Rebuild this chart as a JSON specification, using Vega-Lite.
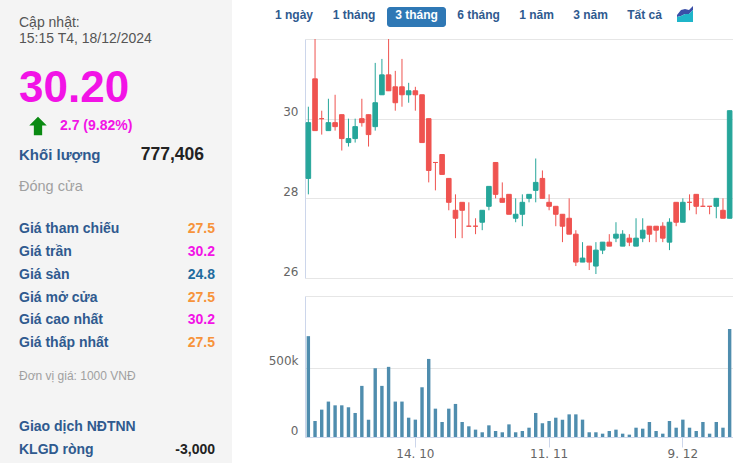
{"$schema":"https://vega.github.io/schema/vega-lite/v6.json","background":"white","padding":0,"autosize":{"type":"pad"},"spacing":73,"bounds":"flush","resolve":{"scale":{"color":"independent","stroke":"independent"}},"config":{"view":{"stroke":null},"text":{"font":"Liberation Sans"},"axis":{"labelFont":"DejaVu Sans","labelFontSize":12,"labelColor":"#666666"}},"datasets":{"icon":[{"slot":7,"rise":7,"mid":5},{"slot":8,"rise":12,"mid":6},{"slot":9,"rise":13,"mid":8},{"slot":10,"rise":12,"mid":8},{"slot":11,"rise":16,"mid":12}],"side":[{"text":"Cập nhật:","line":0,"col":0,"kind":"plain","tone":"note"},{"text":"15:15 T4, 18/12/2024","line":1,"col":0,"kind":"plain","tone":"note"},{"text":"30.20","line":2,"col":0,"kind":"big","tone":"ceil"},{"text":"2.7 (9.82%)","line":3,"col":2,"kind":"bold","tone":"ceil"},{"text":"Khối lượng","line":4,"col":0,"kind":"head","tone":"label"},{"text":"777,406","line":4,"col":3,"kind":"vol","tone":"ink"},{"text":"Đóng cửa","line":5,"col":0,"kind":"close","tone":"muted"},{"text":"Giá tham chiếu","line":6,"col":0,"kind":"bold","tone":"label"},{"text":"27.5","line":6,"col":4,"kind":"num","tone":"ref"},{"text":"Giá trần","line":7,"col":0,"kind":"bold","tone":"label"},{"text":"30.2","line":7,"col":4,"kind":"num","tone":"ceil"},{"text":"Giá sàn","line":8,"col":0,"kind":"bold","tone":"label"},{"text":"24.8","line":8,"col":4,"kind":"num","tone":"floor"},{"text":"Giá mở cửa","line":9,"col":0,"kind":"bold","tone":"label"},{"text":"27.5","line":9,"col":4,"kind":"num","tone":"ref"},{"text":"Giá cao nhất","line":10,"col":0,"kind":"bold","tone":"label"},{"text":"30.2","line":10,"col":4,"kind":"num","tone":"ceil"},{"text":"Giá thấp nhất","line":11,"col":0,"kind":"bold","tone":"label"},{"text":"27.5","line":11,"col":4,"kind":"num","tone":"ref"},{"text":"Đơn vị giá: 1000 VNĐ","line":12,"col":0,"kind":"small","tone":"muted"},{"text":"Giao dịch NĐTNN","line":13,"col":0,"kind":"bold","tone":"label"},{"text":"KLGD ròng","line":14,"col":0,"kind":"bold","tone":"label"},{"text":"-3,000","line":14,"col":4,"kind":"num","tone":"ink"}],"stock":[{"d":"20. 9","o":28.5,"h":30.3,"l":28.1,"c":29.9,"v":726000,"dir":"up"},{"d":"23. 9","o":31.0,"h":32.0,"l":29.7,"c":29.7,"v":115000,"dir":"down"},{"d":"24. 9","o":30.0,"h":30.2,"l":29.6,"c":30.0,"v":197000,"dir":"down"},{"d":"25. 9","o":29.7,"h":30.5,"l":29.7,"c":29.9,"v":255000,"dir":"up"},{"d":"26. 9","o":29.9,"h":30.6,"l":29.7,"c":29.8,"v":228000,"dir":"down"},{"d":"27. 9","o":30.1,"h":30.1,"l":29.2,"c":29.5,"v":228000,"dir":"down"},{"d":"30. 9","o":29.4,"h":30.0,"l":29.3,"c":29.5,"v":214000,"dir":"up"},{"d":"1. 10","o":29.5,"h":30.0,"l":29.4,"c":29.8,"v":173000,"dir":"up"},{"d":"2. 10","o":30.0,"h":30.5,"l":29.8,"c":29.9,"v":368000,"dir":"down"},{"d":"3. 10","o":30.1,"h":30.1,"l":29.3,"c":29.6,"v":125000,"dir":"down"},{"d":"4. 10","o":29.8,"h":31.4,"l":29.7,"c":30.4,"v":495000,"dir":"up"},{"d":"7. 10","o":30.6,"h":31.5,"l":30.6,"c":31.1,"v":368000,"dir":"up"},{"d":"8. 10","o":31.1,"h":32.0,"l":30.7,"c":30.7,"v":505000,"dir":"down"},{"d":"9. 10","o":30.8,"h":31.2,"l":30.2,"c":30.4,"v":255000,"dir":"down"},{"d":"10. 10","o":30.8,"h":31.5,"l":30.3,"c":30.6,"v":255000,"dir":"down"},{"d":"11. 10","o":30.6,"h":30.9,"l":30.4,"c":30.7,"v":139000,"dir":"up"},{"d":"14. 10","o":30.7,"h":30.8,"l":30.2,"c":30.6,"v":125000,"dir":"down"},{"d":"15. 10","o":30.6,"h":30.6,"l":29.4,"c":29.4,"v":358000,"dir":"down"},{"d":"16. 10","o":30.0,"h":30.0,"l":28.4,"c":28.7,"v":562000,"dir":"down"},{"d":"17. 10","o":28.9,"h":28.9,"l":28.2,"c":28.9,"v":204000,"dir":"down"},{"d":"18. 10","o":29.1,"h":29.1,"l":28.6,"c":28.6,"v":108000,"dir":"down"},{"d":"21. 10","o":28.5,"h":28.5,"l":27.7,"c":27.9,"v":204000,"dir":"down"},{"d":"22. 10","o":27.7,"h":28.1,"l":27.0,"c":27.5,"v":238000,"dir":"down"},{"d":"23. 10","o":27.9,"h":27.9,"l":27.0,"c":27.7,"v":108000,"dir":"down"},{"d":"24. 10","o":27.3,"h":27.9,"l":27.3,"c":27.3,"v":77000,"dir":"down"},{"d":"25. 10","o":27.3,"h":27.5,"l":27.1,"c":27.3,"v":53000,"dir":"down"},{"d":"28. 10","o":27.4,"h":27.7,"l":27.2,"c":27.7,"v":34000,"dir":"up"},{"d":"29. 10","o":27.8,"h":28.3,"l":27.7,"c":28.3,"v":84000,"dir":"up"},{"d":"30. 10","o":28.9,"h":28.9,"l":28.0,"c":28.1,"v":43000,"dir":"down"},{"d":"31. 10","o":28.0,"h":28.4,"l":27.9,"c":27.9,"v":34000,"dir":"down"},{"d":"1. 11","o":28.1,"h":28.1,"l":27.6,"c":27.6,"v":91000,"dir":"down"},{"d":"4. 11","o":27.5,"h":28.0,"l":27.4,"c":27.6,"v":34000,"dir":"up"},{"d":"5. 11","o":27.6,"h":28.1,"l":27.3,"c":27.9,"v":43000,"dir":"up"},{"d":"6. 11","o":28.0,"h":28.1,"l":27.9,"c":28.1,"v":67000,"dir":"up"},{"d":"7. 11","o":28.2,"h":29.0,"l":27.9,"c":28.4,"v":173000,"dir":"up"},{"d":"8. 11","o":28.5,"h":28.7,"l":28.0,"c":28.0,"v":99000,"dir":"down"},{"d":"11. 11","o":27.9,"h":28.1,"l":27.7,"c":27.8,"v":115000,"dir":"down"},{"d":"12. 11","o":27.8,"h":27.8,"l":27.3,"c":27.6,"v":139000,"dir":"down"},{"d":"13. 11","o":27.6,"h":27.6,"l":26.9,"c":27.3,"v":125000,"dir":"down"},{"d":"14. 11","o":27.5,"h":28.0,"l":27.1,"c":27.1,"v":163000,"dir":"down"},{"d":"15. 11","o":27.1,"h":27.2,"l":26.3,"c":26.4,"v":163000,"dir":"down"},{"d":"18. 11","o":26.4,"h":26.9,"l":26.4,"c":26.5,"v":125000,"dir":"up"},{"d":"19. 11","o":26.8,"h":26.8,"l":26.2,"c":26.4,"v":34000,"dir":"down"},{"d":"20. 11","o":26.3,"h":26.9,"l":26.1,"c":26.7,"v":34000,"dir":"up"},{"d":"21. 11","o":26.7,"h":26.9,"l":26.6,"c":26.9,"v":24000,"dir":"up"},{"d":"22. 11","o":26.9,"h":27.1,"l":26.8,"c":26.8,"v":43000,"dir":"down"},{"d":"25. 11","o":27.0,"h":27.4,"l":26.9,"c":27.1,"v":53000,"dir":"up"},{"d":"26. 11","o":26.8,"h":27.2,"l":26.8,"c":27.1,"v":24000,"dir":"up"},{"d":"27. 11","o":27.0,"h":27.1,"l":26.8,"c":26.9,"v":17000,"dir":"down"},{"d":"28. 11","o":26.8,"h":27.5,"l":26.8,"c":27.0,"v":67000,"dir":"up"},{"d":"29. 11","o":27.0,"h":27.5,"l":26.9,"c":27.2,"v":60000,"dir":"up"},{"d":"2. 12","o":27.3,"h":27.3,"l":26.9,"c":27.1,"v":108000,"dir":"down"},{"d":"3. 12","o":27.3,"h":27.3,"l":26.9,"c":27.2,"v":43000,"dir":"down"},{"d":"4. 12","o":27.3,"h":27.4,"l":26.9,"c":27.0,"v":24000,"dir":"down"},{"d":"5. 12","o":26.9,"h":27.5,"l":26.7,"c":27.4,"v":115000,"dir":"up"},{"d":"6. 12","o":27.9,"h":27.9,"l":27.3,"c":27.4,"v":67000,"dir":"down"},{"d":"9. 12","o":27.4,"h":28.0,"l":27.4,"c":27.9,"v":125000,"dir":"up"},{"d":"10. 12","o":27.9,"h":28.1,"l":27.7,"c":27.9,"v":67000,"dir":"down"},{"d":"11. 12","o":28.1,"h":28.1,"l":27.6,"c":27.8,"v":43000,"dir":"down"},{"d":"12. 12","o":27.8,"h":28.0,"l":27.8,"c":27.8,"v":108000,"dir":"down"},{"d":"13. 12","o":27.8,"h":27.8,"l":27.6,"c":27.8,"v":24000,"dir":"down"},{"d":"16. 12","o":27.8,"h":28.0,"l":27.5,"c":28.0,"v":108000,"dir":"up"},{"d":"17. 12","o":27.7,"h":28.0,"l":27.5,"c":27.5,"v":67000,"dir":"down"},{"d":"18. 12","o":27.5,"h":30.2,"l":27.5,"c":30.2,"v":777406,"dir":"up"}]},"hconcat":[{"width":232,"height":463,"view":{"fill":"#f4f4f4","stroke":null},"data":{"name":"side"},"encoding":{"x":{"field":"col","type":"quantitative","axis":null,"scale":{"domain":[0,1,2,3,4],"range":[19,38,60,204,215],"nice":false,"zero":false}},"y":{"field":"line","type":"quantitative","axis":null,"scale":{"domain":[0,1,2,3,4,5,6,7,8,9,10,11,12,13,14],"range":[23,39,89,126,155,187,229,252,275,298,320,343,376,427,450],"nice":false,"zero":false}},"text":{"field":"text","type":"nominal"},"color":{"field":"tone","type":"nominal","legend":null,"scale":{"domain":["note","ceil","label","ink","muted","ref","floor"],"range":["#555555","#f213e6","#2f5a8f","#222222","#a0a0a0","#f7933a","#1f6c9e"]}}},"layer":[{"transform":[{"filter":"datum.kind==='plain'"}],"mark":{"type":"text","align":"left","baseline":"middle","fontSize":14}},{"transform":[{"filter":"datum.kind==='big'"}],"mark":{"type":"text","align":"left","baseline":"middle","fontSize":44,"fontWeight":"bold"}},{"transform":[{"filter":"datum.kind==='bold'"}],"mark":{"type":"text","align":"left","baseline":"middle","fontSize":14,"fontWeight":"bold"}},{"transform":[{"filter":"datum.kind==='head'"}],"mark":{"type":"text","align":"left","baseline":"middle","fontSize":15,"fontWeight":"bold"}},{"transform":[{"filter":"datum.kind==='vol'"}],"mark":{"type":"text","align":"right","baseline":"middle","fontSize":17.5,"fontWeight":"bold"}},{"transform":[{"filter":"datum.kind==='close'"}],"mark":{"type":"text","align":"left","baseline":"middle","fontSize":14.5}},{"transform":[{"filter":"datum.kind==='num'"}],"mark":{"type":"text","align":"right","baseline":"middle","fontSize":14,"fontWeight":"bold"}},{"transform":[{"filter":"datum.kind==='small'"}],"mark":{"type":"text","align":"left","baseline":"middle","fontSize":12}},{"data":{"values":[{"line":3,"col":1}]},"mark":{"type":"point","filled":true,"opacity":1,"size":340,"fill":"#0a8a12","stroke":null,"shape":"M0,-1 L0.95,-0.05 L0.45,-0.05 L0.45,1 L-0.45,1 L-0.45,-0.05 L-0.95,-0.05 Z"},"encoding":{"text":null,"color":null}}]},{"spacing":18,"bounds":"flush","resolve":{"scale":{"color":"independent","stroke":"independent"}},"vconcat":[{"width":428,"height":21,"view":{"stroke":null},"encoding":{"x":{"field":"slot","type":"quantitative","axis":null,"scale":{"domain":[0,1,2,3,4,5,6,7,11],"range":[-11,49,111.5,173.5,231.5,285.5,339.5,372,388],"nice":false,"zero":false}},"y":{"field":"rise","type":"quantitative","axis":null,"scale":{"domain":[0,16],"range":[22,6],"nice":false,"zero":false}}},"layer":[{"data":{"values":[{"slot":2,"rise":5}]},"mark":{"type":"rect","width":59,"height":20,"cornerRadius":3,"fill":"#2f78b5"}},{"data":{"values":[{"slot":0,"rise":7,"label":"1 ngày","sel":"n"},{"slot":1,"rise":7,"label":"1 tháng","sel":"n"},{"slot":2,"rise":7,"label":"3 tháng","sel":"y"},{"slot":3,"rise":7,"label":"6 tháng","sel":"n"},{"slot":4,"rise":7,"label":"1 năm","sel":"n"},{"slot":5,"rise":7,"label":"3 năm","sel":"n"},{"slot":6,"rise":7,"label":"Tất cả","sel":"n"}]},"mark":{"type":"text","fontSize":12,"fontWeight":"bold","baseline":"middle","align":"center"},"encoding":{"text":{"field":"label","type":"nominal"},"color":{"field":"sel","type":"nominal","legend":null,"scale":{"domain":["n","y"],"range":["#2f5a8f","#ffffff"]}}}},{"data":{"name":"icon"},"mark":{"type":"area","fill":"#3a4fa8"},"encoding":{"y2":{"field":"mid"}}},{"data":{"name":"icon"},"mark":{"type":"area","fill":"#1fb5c9"},"encoding":{"y":{"field":"mid","type":"quantitative"},"y2":{"datum":0}}}]},{"width":428,"height":239,"data":{"name":"stock"},"encoding":{"x":{"field":"d","type":"ordinal","sort":null,"axis":null,"scale":{"paddingInner":0,"paddingOuter":0}}},"layer":[{"mark":{"type":"rule","strokeWidth":1},"encoding":{"y":{"field":"l","type":"quantitative","title":null,"scale":{"domain":[26,32],"nice":false,"zero":false},"axis":{"values":[26,28,30,32],"labelExpr":"datum.value===32?'':datum.label","grid":true,"gridColor":"#e6e6e6","ticks":false,"domainColor":"#ccd6eb","labelOffset":-7,"labelPadding":7}},"y2":{"field":"h"},"color":{"field":"dir","type":"nominal","legend":null,"scale":{"domain":["up","down"],"range":["#26a69a","#ef5350"]}}}},{"mark":{"type":"bar","size":4.6,"strokeWidth":1},"encoding":{"y":{"field":"o","type":"quantitative"},"y2":{"field":"c"},"color":{"field":"dir","type":"nominal","legend":null},"stroke":{"field":"dir","type":"nominal","legend":null,"scale":{"domain":["up","down"],"range":["#26a69a","#ef5350"]}}}}]},{"width":428,"height":141,"data":{"name":"stock"},"mark":{"type":"bar","size":3.4,"color":"#4f8dae"},"encoding":{"x":{"field":"d","type":"ordinal","sort":null,"title":null,"scale":{"paddingInner":0,"paddingOuter":0},"axis":{"values":["14. 10","11. 11","9. 12"],"labelAngle":0,"labelOverlap":false,"tickSize":10,"tickColor":"#ccd6eb","domainColor":"#ccd6eb","labelPadding":1,"grid":false}},"y":{"field":"v","type":"quantitative","title":null,"scale":{"domain":[0,1015000],"nice":false,"zero":false},"axis":{"values":[0,500000,1015000],"labelExpr":"datum.value===0?'0':datum.value===500000?'500k':''","grid":true,"gridColor":"#e6e6e6","ticks":false,"domainColor":"#ccd6eb","labelOffset":-7,"labelPadding":7}}}}]}]}
